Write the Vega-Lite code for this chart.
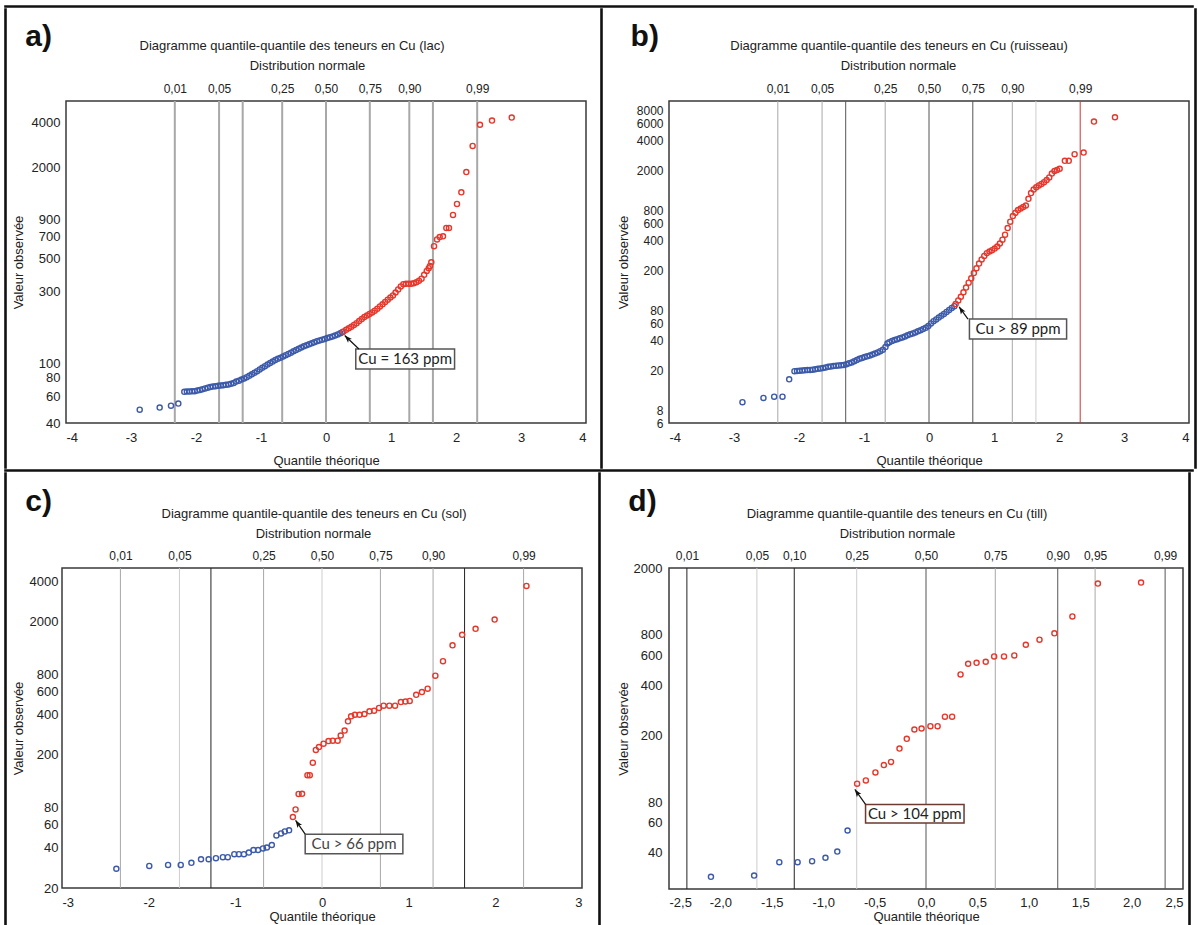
{
"$schema":"https://vega.github.io/schema/vega-lite/v6.json",
"padding":{"left":4,"top":5,"right":0,"bottom":0},
"config":{
 "locale":{"number":{"decimal":",","thousands":" ","grouping":[3],"currency":["",""],"minus":"-"}},
 "font":"Liberation Sans",
 "view":{"stroke":"#3a3a3a","strokeWidth":1.5},
 "axis":{"grid":false,"ticks":false,"domain":false,"labelOverlap":false,"labelFontSize":13,"titleFontSize":13,"labelColor":"#222","titleColor":"#222","titleFontWeight":"normal","labelFont":"Liberation Sans","titleFont":"Liberation Sans"},
 "title":{"font":"Liberation Sans","fontSize":13,"fontWeight":"normal","color":"#222"}
},
"spacing":0,
"vconcat":[
{"width":1188,"height":1,"data":{"values":[]},"mark":"point","view":{"stroke":"#111","strokeWidth":1.6}},
{"spacing":4,"hconcat":[
{"width":1,"height":459,"data":{"values":[]},"mark":"point","view":{"stroke":"#111","strokeWidth":1.6}},
{"spacing":13,"hconcat":[
{"spacing":11,"vconcat":[
{"width":1,"height":1,"data":{"values":[]},"mark":"point","view":{"stroke":"transparent"}},
{"title":{"text":"a)","anchor":"start","frame":"bounds","fontSize":30,"fontWeight":"bold","color":"#111","offset":0,"dx":14,"dy":13},
 "vconcat":[{
 "width":520,"height":322,
 "title":{"text":"Diagramme quantile-quantile des teneurs en Cu (lac)","frame":"group","dx":-34,"offset":6},
 "resolve":{"axis":{"x":"independent","y":"independent"}},
 "layer":[
  {"data":{"values":[{"q":-2.326,"t":"mid"},{"q":-1.645,"t":"mid"},{"q":-1.2816,"t":"mid"},{"q":-0.674,"t":"mid"},{"q":0,"t":"mid"},{"q":0.674,"t":"mid"},{"q":1.2816,"t":"mid"},{"q":1.645,"t":"mid"},{"q":2.326,"t":"mid"}]},
   "mark":{"type":"rule","strokeWidth":2},
   "encoding":{
    "x":{"field":"q","type":"quantitative","scale":{"domain":[-4,4],"nice":false},
     "axis":{"orient":"top","title":"Distribution normale","values":[-2.326,-1.645,-0.674,0,0.674,1.2816,2.326],"labelExpr":"datum.value < -2 ? '0,01' : datum.value < -1.5 ? '0,05' : datum.value < -1 ? '0,10' : datum.value < -0.5 ? '0,25' : datum.value < 0.5 ? '0,50' : datum.value < 1 ? '0,75' : datum.value < 1.5 ? '0,90' : datum.value < 2 ? '0,95' : '0,99'","labelFontSize":12,"labelPadding":6,"titlePadding":10,"titleX":241}},
    "stroke":{"field":"t","type":"nominal","scale":{"domain":["light","mid","dark","black","red"],"range":["#cdcdcd","#a8a8a8","#555555","#222222","#c9362e"]},"legend":null}}},
  {"data":{"values":[
{"x":-2.866,"v":49.1,"g":"b"},{"x":-2.559,"v":50.7,"g":"b"},{"x":-2.385,"v":52.2,"g":"b"},{"x":-2.272,"v":53.9,"g":"b"},
{"x":-2.18,"v":64.5,"g":"b"},{"x":-2.14,"v":64.8,"g":"b"},{"x":-2.1,"v":64.8,"g":"b"},{"x":-2.06,"v":65,"g":"b"},{"x":-2.02,"v":65.2,"g":"b"},{"x":-1.98,"v":65.8,"g":"b"},{"x":-1.94,"v":66.4,"g":"b"},{"x":-1.9,"v":67.2,"g":"b"},{"x":-1.86,"v":68,"g":"b"},{"x":-1.82,"v":68.8,"g":"b"},{"x":-1.78,"v":69.5,"g":"b"},{"x":-1.74,"v":70,"g":"b"},{"x":-1.7,"v":70.3,"g":"b"},{"x":-1.66,"v":70.7,"g":"b"},{"x":-1.62,"v":71,"g":"b"},{"x":-1.58,"v":71.4,"g":"b"},{"x":-1.54,"v":71.8,"g":"b"},{"x":-1.5,"v":72.3,"g":"b"},{"x":-1.46,"v":73,"g":"b"},{"x":-1.42,"v":74,"g":"b"},{"x":-1.38,"v":75.5,"g":"b"},{"x":-1.34,"v":76.6,"g":"b"},{"x":-1.3,"v":77.8,"g":"b"},{"x":-1.26,"v":79.2,"g":"b"},{"x":-1.22,"v":80.8,"g":"b"},{"x":-1.18,"v":82.5,"g":"b"},{"x":-1.14,"v":84.4,"g":"b"},{"x":-1.1,"v":86.5,"g":"b"},{"x":-1.06,"v":88.6,"g":"b"},{"x":-1.02,"v":91,"g":"b"},{"x":-0.98,"v":93.3,"g":"b"},{"x":-0.94,"v":95.6,"g":"b"},{"x":-0.9,"v":98,"g":"b"},{"x":-0.86,"v":100.3,"g":"b"},{"x":-0.82,"v":102.6,"g":"b"},{"x":-0.78,"v":105,"g":"b"},{"x":-0.74,"v":107,"g":"b"},{"x":-0.7,"v":109,"g":"b"},{"x":-0.66,"v":111,"g":"b"},{"x":-0.62,"v":113.2,"g":"b"},{"x":-0.58,"v":115.4,"g":"b"},{"x":-0.54,"v":117.6,"g":"b"},{"x":-0.5,"v":120,"g":"b"},{"x":-0.46,"v":122.4,"g":"b"},{"x":-0.42,"v":124.8,"g":"b"},{"x":-0.38,"v":127.3,"g":"b"},{"x":-0.34,"v":129.7,"g":"b"},{"x":-0.3,"v":131.6,"g":"b"},{"x":-0.26,"v":133.6,"g":"b"},{"x":-0.22,"v":135.8,"g":"b"},{"x":-0.18,"v":138,"g":"b"},{"x":-0.14,"v":140.2,"g":"b"},{"x":-0.1,"v":142,"g":"b"},{"x":-0.06,"v":143.6,"g":"b"},{"x":-0.02,"v":145.3,"g":"b"},{"x":0.02,"v":147.2,"g":"b"},{"x":0.06,"v":149,"g":"b"},{"x":0.1,"v":151,"g":"b"},{"x":0.14,"v":153,"g":"b"},{"x":0.18,"v":155.5,"g":"b"},{"x":0.22,"v":158.5,"g":"b"},{"x":0.25,"v":161,"g":"b"},
{"x":0.27,"v":163,"g":"r"},{"x":0.31,"v":167,"g":"r"},{"x":0.35,"v":171,"g":"r"},{"x":0.39,"v":175,"g":"r"},{"x":0.43,"v":180,"g":"r"},{"x":0.47,"v":185,"g":"r"},{"x":0.51,"v":191,"g":"r"},{"x":0.55,"v":197,"g":"r"},{"x":0.59,"v":203,"g":"r"},{"x":0.63,"v":208,"g":"r"},{"x":0.67,"v":213,"g":"r"},{"x":0.71,"v":218,"g":"r"},{"x":0.75,"v":224,"g":"r"},{"x":0.79,"v":231,"g":"r"},{"x":0.83,"v":239,"g":"r"},{"x":0.87,"v":247,"g":"r"},{"x":0.91,"v":256,"g":"r"},{"x":0.95,"v":265,"g":"r"},{"x":0.99,"v":274,"g":"r"},{"x":1.03,"v":283,"g":"r"},{"x":1.07,"v":296,"g":"r"},{"x":1.11,"v":310,"g":"r"},{"x":1.15,"v":325,"g":"r"},{"x":1.19,"v":336,"g":"r"},{"x":1.23,"v":338,"g":"r"},{"x":1.27,"v":338,"g":"r"},{"x":1.31,"v":338,"g":"r"},{"x":1.35,"v":341,"g":"r"},{"x":1.39,"v":346,"g":"r"},{"x":1.43,"v":355,"g":"r"},{"x":1.47,"v":366,"g":"r"},{"x":1.51,"v":388,"g":"r"},{"x":1.55,"v":412,"g":"r"},{"x":1.58,"v":430,"g":"r"},{"x":1.6,"v":445,"g":"r"},{"x":1.62,"v":470,"g":"r"},
{"x":1.662,"v":602,"g":"r"},{"x":1.708,"v":668,"g":"r"},{"x":1.749,"v":692,"g":"r"},{"x":1.8,"v":700,"g":"r"},{"x":1.851,"v":797,"g":"r"},{"x":1.892,"v":797,"g":"r"},{"x":1.954,"v":972,"g":"r"},{"x":2.015,"v":1152,"g":"r"},{"x":2.082,"v":1376,"g":"r"},{"x":2.159,"v":1875,"g":"r"},{"x":2.256,"v":2800,"g":"r"},{"x":2.369,"v":3877,"g":"r"},{"x":2.554,"v":4130,"g":"r"},{"x":2.857,"v":4330,"g":"r"}
  ]},
   "mark":{"type":"point","shape":"circle","filled":false,"size":26,"strokeWidth":1.4,"opacity":1},
   "encoding":{
    "x":{"field":"x","type":"quantitative","scale":{"domain":[-4,4],"nice":false},"axis":{"orient":"bottom","title":"Quantile théorique","values":[-4,-3,-2,-1,0,1,2,3,4],"format":"d","labelPadding":8,"titlePadding":10}},
    "y":{"field":"v","type":"quantitative","scale":{"type":"log","domain":[40,5580],"nice":false},"axis":{"title":"Valeur observée","values":[40,60,80,100,300,500,700,900,2000,4000],"format":"d","labelPadding":6,"titlePadding":6}},
    "color":{"field":"g","type":"nominal","scale":{"domain":["b","r"],"range":["#3c5aa9","#e5382c"]},"legend":null}}},
  {"data":{"values":[{"bx":0.458,"bx2":1.978,"by":91.7,"by2":124.5,"tx":1.218,"ty":106.8,"label":"Cu = 163 ppm","ax":0.506,"ay":124.5,"hx":0.288,"hy":153}]},
   "layer":[
    {"mark":{"type":"rect","fill":"white","stroke":"#555","strokeWidth":1.5},"encoding":{"x":{"field":"bx","type":"quantitative","scale":{"domain":[-4,4],"nice":false},"axis":null},"x2":{"field":"bx2"},"y":{"field":"by","type":"quantitative","scale":{"type":"log","domain":[40,5580],"nice":false},"axis":null},"y2":{"field":"by2"}}},
    {"mark":{"type":"text","font":"Lato","fontSize":15,"color":"#222"},"encoding":{"x":{"field":"tx","type":"quantitative","scale":{"domain":[-4,4],"nice":false},"axis":null},"y":{"field":"ty","type":"quantitative","scale":{"type":"log","domain":[40,5580],"nice":false},"axis":null},"text":{"field":"label"}}},
    {"mark":{"type":"rule","color":"#111","strokeWidth":1.2},"encoding":{"x":{"field":"ax","type":"quantitative","scale":{"domain":[-4,4],"nice":false},"axis":null},"y":{"field":"ay","type":"quantitative","scale":{"type":"log","domain":[40,5580],"nice":false},"axis":null},"x2":{"field":"hx"},"y2":{"field":"hy"}}},
    {"mark":{"type":"point","shape":"M0,0L0.55,1.5L0,1.15L-0.55,1.5Z","filled":true,"color":"#111","size":100,"angle":315,"opacity":1},"encoding":{"x":{"field":"hx","type":"quantitative","scale":{"domain":[-4,4],"nice":false},"axis":null},"y":{"field":"hy","type":"quantitative","scale":{"type":"log","domain":[40,5580],"nice":false},"axis":null}}}
   ]}
 ]}]}
]},
{"width":1,"height":459,"data":{"values":[]},"mark":"point","view":{"stroke":"#111","strokeWidth":1.6}},
{"spacing":11,"vconcat":[
{"width":1,"height":1,"data":{"values":[]},"mark":"point","view":{"stroke":"transparent"}},
{"title":{"text":"b)","anchor":"start","frame":"bounds","fontSize":30,"fontWeight":"bold","color":"#111","offset":0,"dx":14,"dy":13},
 "vconcat":[{
 "width":520,"height":322,
 "title":{"text":"Diagramme quantile-quantile des teneurs en Cu (ruisseau)","frame":"group","dx":-30,"offset":6},
 "resolve":{"axis":{"x":"independent","y":"independent"}},
 "layer":[
  {"data":{"values":[{"q":-2.326,"t":"mid"},{"q":-1.645,"t":"mid"},{"q":-1.2816,"t":"dark"},{"q":-0.674,"t":"mid"},{"q":0,"t":"dark"},{"q":0.674,"t":"dark"},{"q":1.2816,"t":"mid"},{"q":1.645,"t":"light"},{"q":2.326,"t":"red"}]},
   "mark":{"type":"rule","strokeWidth":1},
   "encoding":{
    "x":{"field":"q","type":"quantitative","scale":{"domain":[-4,4],"nice":false},
     "axis":{"orient":"top","title":"Distribution normale","values":[-2.326,-1.645,-0.674,0,0.674,1.2816,2.326],"labelExpr":"datum.value < -2 ? '0,01' : datum.value < -1.5 ? '0,05' : datum.value < -1 ? '0,10' : datum.value < -0.5 ? '0,25' : datum.value < 0.5 ? '0,50' : datum.value < 1 ? '0,75' : datum.value < 1.5 ? '0,90' : datum.value < 2 ? '0,95' : '0,99'","labelFontSize":12,"labelPadding":6,"titlePadding":10,"titleX":229}},
    "stroke":{"field":"t","type":"nominal","scale":{"domain":["light","mid","dark","black","red"],"range":["#cdcdcd","#a8a8a8","#555555","#222222","#c9362e"]},"legend":null}}},
  {"data":{"values":[
{"x":-2.87,"v":9.7,"g":"b"},{"x":-2.547,"v":10.7,"g":"b"},{"x":-2.382,"v":11,"g":"b"},{"x":-2.254,"v":11,"g":"b"},{"x":-2.151,"v":16.4,"g":"b"},
{"x":-2.07,"v":19.8,"g":"b"},{"x":-2.03,"v":19.9,"g":"b"},{"x":-1.99,"v":20,"g":"b"},{"x":-1.95,"v":20.1,"g":"b"},{"x":-1.91,"v":20.2,"g":"b"},{"x":-1.87,"v":20.3,"g":"b"},{"x":-1.83,"v":20.4,"g":"b"},{"x":-1.79,"v":20.5,"g":"b"},{"x":-1.75,"v":20.7,"g":"b"},{"x":-1.71,"v":20.9,"g":"b"},{"x":-1.67,"v":21.1,"g":"b"},{"x":-1.63,"v":21.3,"g":"b"},{"x":-1.59,"v":21.6,"g":"b"},{"x":-1.55,"v":21.9,"g":"b"},{"x":-1.51,"v":22.1,"g":"b"},{"x":-1.47,"v":22.3,"g":"b"},{"x":-1.43,"v":22.5,"g":"b"},{"x":-1.39,"v":22.6,"g":"b"},{"x":-1.35,"v":22.7,"g":"b"},{"x":-1.31,"v":22.8,"g":"b"},{"x":-1.27,"v":23.2,"g":"b"},{"x":-1.23,"v":23.7,"g":"b"},{"x":-1.19,"v":24.2,"g":"b"},{"x":-1.15,"v":24.9,"g":"b"},{"x":-1.11,"v":25.6,"g":"b"},{"x":-1.07,"v":26.3,"g":"b"},{"x":-1.03,"v":26.9,"g":"b"},{"x":-0.99,"v":27.4,"g":"b"},{"x":-0.95,"v":27.9,"g":"b"},{"x":-0.91,"v":28.4,"g":"b"},{"x":-0.87,"v":29,"g":"b"},{"x":-0.83,"v":29.7,"g":"b"},{"x":-0.79,"v":30.5,"g":"b"},{"x":-0.75,"v":31.4,"g":"b"},{"x":-0.71,"v":32.5,"g":"b"},{"x":-0.67,"v":34.5,"g":"b"},{"x":-0.64,"v":37.5,"g":"b"},{"x":-0.61,"v":38.6,"g":"b"},{"x":-0.57,"v":39.6,"g":"b"},{"x":-0.53,"v":40.6,"g":"b"},{"x":-0.49,"v":41.4,"g":"b"},{"x":-0.45,"v":42.2,"g":"b"},{"x":-0.41,"v":43.1,"g":"b"},{"x":-0.37,"v":44,"g":"b"},{"x":-0.33,"v":45.2,"g":"b"},{"x":-0.29,"v":46.3,"g":"b"},{"x":-0.25,"v":47.3,"g":"b"},{"x":-0.21,"v":48.4,"g":"b"},{"x":-0.17,"v":49.6,"g":"b"},{"x":-0.13,"v":50.8,"g":"b"},{"x":-0.09,"v":52.2,"g":"b"},{"x":-0.05,"v":53.8,"g":"b"},{"x":-0.01,"v":56,"g":"b"},{"x":0.03,"v":59.5,"g":"b"},{"x":0.07,"v":62.6,"g":"b"},{"x":0.11,"v":65.3,"g":"b"},{"x":0.15,"v":68,"g":"b"},{"x":0.19,"v":70.8,"g":"b"},{"x":0.23,"v":74,"g":"b"},{"x":0.27,"v":77.5,"g":"b"},{"x":0.31,"v":81.2,"g":"b"},{"x":0.35,"v":85,"g":"b"},{"x":0.39,"v":88.5,"g":"b"},
{"x":0.41,"v":93,"g":"r"},{"x":0.45,"v":101,"g":"r"},{"x":0.49,"v":110,"g":"r"},{"x":0.53,"v":122,"g":"r"},{"x":0.57,"v":136,"g":"r"},{"x":0.61,"v":152,"g":"r"},{"x":0.65,"v":168,"g":"r"},{"x":0.69,"v":190,"g":"r"},{"x":0.73,"v":212,"g":"r"},{"x":0.77,"v":236,"g":"r"},{"x":0.81,"v":260,"g":"r"},{"x":0.85,"v":282,"g":"r"},{"x":0.89,"v":300,"g":"r"},{"x":0.93,"v":312,"g":"r"},{"x":0.97,"v":322,"g":"r"},{"x":1.01,"v":334,"g":"r"},{"x":1.05,"v":350,"g":"r"},{"x":1.09,"v":375,"g":"r"},{"x":1.13,"v":410,"g":"r"},{"x":1.17,"v":460,"g":"r"},{"x":1.21,"v":535,"g":"r"},{"x":1.25,"v":620,"g":"r"},{"x":1.29,"v":705,"g":"r"},{"x":1.33,"v":760,"g":"r"},{"x":1.37,"v":810,"g":"r"},{"x":1.41,"v":840,"g":"r"},{"x":1.45,"v":870,"g":"r"},{"x":1.49,"v":900,"g":"r"},{"x":1.53,"v":1050,"g":"r"},{"x":1.57,"v":1200,"g":"r"},{"x":1.61,"v":1300,"g":"r"},{"x":1.65,"v":1370,"g":"r"},{"x":1.69,"v":1430,"g":"r"},{"x":1.73,"v":1480,"g":"r"},{"x":1.77,"v":1540,"g":"r"},{"x":1.81,"v":1620,"g":"r"},{"x":1.85,"v":1720,"g":"r"},{"x":1.89,"v":1880,"g":"r"},{"x":1.93,"v":1990,"g":"r"},{"x":1.97,"v":2040,"g":"r"},{"x":2.01,"v":2100,"g":"r"},{"x":2.09,"v":2520,"g":"r"},{"x":2.15,"v":2520,"g":"r"},
{"x":2.24,"v":2937,"g":"r"},{"x":2.379,"v":3050,"g":"r"},{"x":2.538,"v":6224,"g":"r"},{"x":2.861,"v":6880,"g":"r"}
  ]},
   "mark":{"type":"point","shape":"circle","filled":false,"size":26,"strokeWidth":1.4,"opacity":1},
   "encoding":{
    "x":{"field":"x","type":"quantitative","scale":{"domain":[-4,4],"nice":false},"axis":{"orient":"bottom","title":"Quantile théorique","values":[-4,-3,-2,-1,0,1,2,3,4],"format":"d","labelPadding":8,"titlePadding":10}},
    "y":{"field":"v","type":"quantitative","scale":{"type":"log","domain":[6,10000],"nice":false},"axis":{"title":"Valeur observée","values":[6,8,20,40,60,80,200,400,600,800,2000,4000,6000,8000],"format":"d","labelFontSize":12,"labelPadding":6,"titlePadding":6}},
    "color":{"field":"g","type":"nominal","scale":{"domain":["b","r"],"range":["#3c5aa9","#e5382c"]},"legend":null}}},
  {"data":{"values":[{"bx":0.622,"bx2":2.117,"by":41.5,"by2":65.8,"tx":1.37,"ty":52.3,"label":"Cu > 89 ppm","ax":0.6,"ay":65.8,"hx":0.464,"hy":87.3}]},
   "layer":[
    {"mark":{"type":"rect","fill":"white","stroke":"#555","strokeWidth":1.5},"encoding":{"x":{"field":"bx","type":"quantitative","scale":{"domain":[-4,4],"nice":false},"axis":null},"x2":{"field":"bx2"},"y":{"field":"by","type":"quantitative","scale":{"type":"log","domain":[6,10000],"nice":false},"axis":null},"y2":{"field":"by2"}}},
    {"mark":{"type":"text","font":"Lato","fontSize":15,"color":"#222"},"encoding":{"x":{"field":"tx","type":"quantitative","scale":{"domain":[-4,4],"nice":false},"axis":null},"y":{"field":"ty","type":"quantitative","scale":{"type":"log","domain":[6,10000],"nice":false},"axis":null},"text":{"field":"label"}}},
    {"mark":{"type":"rule","color":"#111","strokeWidth":1.2},"encoding":{"x":{"field":"ax","type":"quantitative","scale":{"domain":[-4,4],"nice":false},"axis":null},"y":{"field":"ay","type":"quantitative","scale":{"type":"log","domain":[6,10000],"nice":false},"axis":null},"x2":{"field":"hx"},"y2":{"field":"hy"}}},
    {"mark":{"type":"point","shape":"M0,0L0.55,1.5L0,1.15L-0.55,1.5Z","filled":true,"color":"#111","size":100,"angle":327,"opacity":1},"encoding":{"x":{"field":"hx","type":"quantitative","scale":{"domain":[-4,4],"nice":false},"axis":null},"y":{"field":"hy","type":"quantitative","scale":{"type":"log","domain":[6,10000],"nice":false},"axis":null}}}
   ]}
 ]}]}
]}
]},
{"width":1,"height":459,"data":{"values":[]},"mark":"point","view":{"stroke":"#111","strokeWidth":1.6}}
]},
{"width":1188,"height":1,"data":{"values":[]},"mark":"point","view":{"stroke":"#111","strokeWidth":1.6}},
{"spacing":4,"hconcat":[
{"width":1,"height":458,"data":{"values":[]},"mark":"point","view":{"stroke":"#111","strokeWidth":1.6}},
{"spacing":15,"hconcat":[
{"spacing":12,"vconcat":[
{"width":1,"height":1,"data":{"values":[]},"mark":"point","view":{"stroke":"transparent"}},
{"title":{"text":"c)","anchor":"start","frame":"bounds","fontSize":30,"fontWeight":"bold","color":"#111","offset":0,"dx":14,"dy":10},
 "vconcat":[{
 "width":520,"height":320,
 "title":{"text":"Diagramme quantile-quantile des teneurs en Cu (sol)","frame":"group","dx":-8,"offset":6},
 "resolve":{"axis":{"x":"independent","y":"independent"}},
 "layer":[
  {"data":{"values":[{"q":-2.326,"t":"mid"},{"q":-1.645,"t":"light"},{"q":-1.2816,"t":"black"},{"q":-0.674,"t":"mid"},{"q":0,"t":"light"},{"q":0.674,"t":"mid"},{"q":1.2816,"t":"mid"},{"q":1.645,"t":"black"},{"q":2.326,"t":"mid"}]},
   "mark":{"type":"rule","strokeWidth":1},
   "encoding":{
    "x":{"field":"q","type":"quantitative","scale":{"domain":[-3,3],"nice":false},
     "axis":{"orient":"top","title":"Distribution normale","values":[-2.326,-1.645,-0.674,0,0.674,1.2816,2.326],"labelExpr":"datum.value < -2 ? '0,01' : datum.value < -1.5 ? '0,05' : datum.value < -1 ? '0,10' : datum.value < -0.5 ? '0,25' : datum.value < 0.5 ? '0,50' : datum.value < 1 ? '0,75' : datum.value < 1.5 ? '0,90' : datum.value < 2 ? '0,95' : '0,99'","labelFontSize":12,"labelPadding":6,"titlePadding":9,"titleX":251}},
    "stroke":{"field":"t","type":"nominal","scale":{"domain":["light","mid","dark","black","red"],"range":["#cdcdcd","#a8a8a8","#555555","#222222","#c9362e"]},"legend":null}}},
  {"data":{"values":[
{"x":-2.373,"v":27.9,"g":"b"},{"x":-1.993,"v":29.3,"g":"b"},{"x":-1.776,"v":29.8,"g":"b"},{"x":-1.63,"v":29.8,"g":"b"},{"x":-1.507,"v":30.9,"g":"b"},{"x":-1.396,"v":32.9,"g":"b"},{"x":-1.308,"v":32.9,"g":"b"},{"x":-1.224,"v":33.5,"g":"b"},{"x":-1.144,"v":34.1,"g":"b"},{"x":-1.087,"v":34.1,"g":"b"},{"x":-1.012,"v":35.9,"g":"b"},{"x":-0.959,"v":35.9,"g":"b"},{"x":-0.901,"v":35.9,"g":"b"},{"x":-0.844,"v":36.9,"g":"b"},{"x":-0.791,"v":38.6,"g":"b"},{"x":-0.738,"v":38.6,"g":"b"},{"x":-0.681,"v":39.7,"g":"b"},{"x":-0.636,"v":40.3,"g":"b"},{"x":-0.579,"v":42.1,"g":"b"},{"x":-0.526,"v":49.7,"g":"b"},{"x":-0.473,"v":51.4,"g":"b"},{"x":-0.429,"v":53.2,"g":"b"},{"x":-0.38,"v":54.3,"g":"b"},
{"x":-0.336,"v":68.3,"g":"r"},{"x":-0.305,"v":77.9,"g":"r"},{"x":-0.27,"v":101.9,"g":"r"},{"x":-0.23,"v":102,"g":"r"},{"x":-0.168,"v":141,"g":"r"},{"x":-0.141,"v":141,"g":"r"},{"x":-0.106,"v":175,"g":"r"},{"x":-0.071,"v":218,"g":"r"},{"x":-0.035,"v":229,"g":"r"},{"x":0.018,"v":243,"g":"r"},{"x":0.075,"v":254,"g":"r"},{"x":0.124,"v":256,"g":"r"},{"x":0.181,"v":256,"g":"r"},{"x":0.216,"v":280,"g":"r"},{"x":0.261,"v":305,"g":"r"},{"x":0.3,"v":358,"g":"r"},{"x":0.336,"v":390,"g":"r"},{"x":0.38,"v":401,"g":"r"},{"x":0.433,"v":401,"g":"r"},{"x":0.49,"v":406,"g":"r"},{"x":0.548,"v":425,"g":"r"},{"x":0.601,"v":430,"g":"r"},{"x":0.658,"v":451,"g":"r"},{"x":0.711,"v":469,"g":"r"},{"x":0.777,"v":469,"g":"r"},{"x":0.843,"v":469,"g":"r"},{"x":0.91,"v":499,"g":"r"},{"x":0.963,"v":504,"g":"r"},{"x":1.012,"v":509,"g":"r"},{"x":1.087,"v":566,"g":"r"},{"x":1.153,"v":593,"g":"r"},{"x":1.219,"v":630,"g":"r"},{"x":1.308,"v":788,"g":"r"},{"x":1.396,"v":1013,"g":"r"},{"x":1.506,"v":1332,"g":"r"},{"x":1.617,"v":1598,"g":"r"},{"x":1.772,"v":1772,"g":"r"},{"x":1.992,"v":2081,"g":"r"},{"x":2.359,"v":3723,"g":"r"}
  ]},
   "mark":{"type":"point","shape":"circle","filled":false,"size":26,"strokeWidth":1.4,"opacity":1},
   "encoding":{
    "x":{"field":"x","type":"quantitative","scale":{"domain":[-3,3],"nice":false},"axis":{"orient":"bottom","title":"Quantile théorique","values":[-3,-2,-1,0,1,2,3],"format":"d","labelPadding":8,"titlePadding":1}},
    "y":{"field":"v","type":"quantitative","scale":{"type":"log","domain":[20,5080],"nice":false},"axis":{"title":"Valeur observée","values":[20,40,60,80,200,400,600,800,2000,4000],"format":"d","labelPadding":4,"titlePadding":4}},
    "color":{"field":"g","type":"nominal","scale":{"domain":["b","r"],"range":["#4a64b0","#e5382c"]},"legend":null}}},
  {"data":{"values":[{"bx":-0.194,"bx2":0.933,"by":36.1,"by2":50.8,"tx":0.37,"ty":42.8,"label":"Cu > 66 ppm","ax":-0.194,"ay":50.8,"hx":-0.305,"hy":64.5}]},
   "layer":[
    {"mark":{"type":"rect","fill":"white","stroke":"#555","strokeWidth":1.5},"encoding":{"x":{"field":"bx","type":"quantitative","scale":{"domain":[-3,3],"nice":false},"axis":null},"x2":{"field":"bx2"},"y":{"field":"by","type":"quantitative","scale":{"type":"log","domain":[20,5080],"nice":false},"axis":null},"y2":{"field":"by2"}}},
    {"mark":{"type":"text","font":"Lato","fontSize":15,"color":"#444"},"encoding":{"x":{"field":"tx","type":"quantitative","scale":{"domain":[-3,3],"nice":false},"axis":null},"y":{"field":"ty","type":"quantitative","scale":{"type":"log","domain":[20,5080],"nice":false},"axis":null},"text":{"field":"label"}}},
    {"mark":{"type":"rule","color":"#111","strokeWidth":1.2},"encoding":{"x":{"field":"ax","type":"quantitative","scale":{"domain":[-3,3],"nice":false},"axis":null},"y":{"field":"ay","type":"quantitative","scale":{"type":"log","domain":[20,5080],"nice":false},"axis":null},"x2":{"field":"hx"},"y2":{"field":"hy"}}},
    {"mark":{"type":"point","shape":"M0,0L0.55,1.5L0,1.15L-0.55,1.5Z","filled":true,"color":"#111","size":100,"angle":326,"opacity":1},"encoding":{"x":{"field":"hx","type":"quantitative","scale":{"domain":[-3,3],"nice":false},"axis":null},"y":{"field":"hy","type":"quantitative","scale":{"type":"log","domain":[20,5080],"nice":false},"axis":null}}}
   ]}
 ]}]}
]},
{"width":1,"height":458,"data":{"values":[]},"mark":"point","view":{"stroke":"#111","strokeWidth":1.6}},
{"spacing":12,"vconcat":[
{"width":1,"height":1,"data":{"values":[]},"mark":"point","view":{"stroke":"transparent"}},
{"title":{"text":"d)","anchor":"start","frame":"bounds","fontSize":30,"fontWeight":"bold","color":"#111","offset":0,"dx":12,"dy":10},
 "vconcat":[{
 "width":514,"height":321,
 "title":{"text":"Diagramme quantile-quantile des teneurs en Cu (till)","frame":"group","dx":-29,"offset":6},
 "resolve":{"axis":{"x":"independent","y":"independent"}},
 "layer":[
  {"data":{"values":[{"q":-2.326,"t":"black"},{"q":-1.645,"t":"light"},{"q":-1.2816,"t":"black"},{"q":-0.674,"t":"light"},{"q":0,"t":"dark"},{"q":0.674,"t":"mid"},{"q":1.2816,"t":"dark"},{"q":1.645,"t":"mid"},{"q":2.326,"t":"dark"}]},
   "mark":{"type":"rule","strokeWidth":1},
   "encoding":{
    "x":{"field":"q","type":"quantitative","scale":{"domain":[-2.5,2.5],"nice":false},
     "axis":{"orient":"top","title":"Distribution normale","values":[-2.326,-1.645,-1.2816,-0.674,0,0.674,1.2816,1.645,2.326],"labelExpr":"datum.value < -2 ? '0,01' : datum.value < -1.5 ? '0,05' : datum.value < -1 ? '0,10' : datum.value < -0.5 ? '0,25' : datum.value < 0.5 ? '0,50' : datum.value < 1 ? '0,75' : datum.value < 1.5 ? '0,90' : datum.value < 2 ? '0,95' : '0,99'","labelFontSize":12,"labelPadding":6,"titlePadding":9,"titleX":228}},
    "stroke":{"field":"t","type":"nominal","scale":{"domain":["light","mid","dark","black","red"],"range":["#cdcdcd","#a8a8a8","#555555","#222222","#c9362e"]},"legend":null}}},
  {"data":{"values":[
{"x":-2.092,"v":28.6,"g":"b"},{"x":-1.672,"v":29.1,"g":"b"},{"x":-1.427,"v":35,"g":"b"},{"x":-1.249,"v":35,"g":"b"},{"x":-1.108,"v":35.5,"g":"b"},{"x":-0.978,"v":37.2,"g":"b"},{"x":-0.863,"v":40.5,"g":"b"},{"x":-0.763,"v":54.1,"g":"b"},
{"x":-0.67,"v":103,"g":"r"},{"x":-0.585,"v":107.7,"g":"r"},{"x":-0.492,"v":120.2,"g":"r"},{"x":-0.41,"v":133,"g":"r"},{"x":-0.34,"v":139,"g":"r"},{"x":-0.258,"v":167,"g":"r"},{"x":-0.187,"v":191,"g":"r"},{"x":-0.113,"v":217,"g":"r"},{"x":-0.043,"v":220,"g":"r"},{"x":0.043,"v":227,"g":"r"},{"x":0.113,"v":227,"g":"r"},{"x":0.184,"v":259,"g":"r"},{"x":0.254,"v":259,"g":"r"},{"x":0.336,"v":463,"g":"r"},{"x":0.41,"v":536,"g":"r"},{"x":0.492,"v":543,"g":"r"},{"x":0.581,"v":551,"g":"r"},{"x":0.663,"v":593,"g":"r"},{"x":0.759,"v":593,"g":"r"},{"x":0.859,"v":601,"g":"r"},{"x":0.971,"v":696,"g":"r"},{"x":1.104,"v":746,"g":"r"},{"x":1.249,"v":814,"g":"r"},{"x":1.424,"v":1028,"g":"r"},{"x":1.672,"v":1614,"g":"r"},{"x":2.092,"v":1637,"g":"r"}
  ]},
   "mark":{"type":"point","shape":"circle","filled":false,"size":26,"strokeWidth":1.4,"opacity":1},
   "encoding":{
    "x":{"field":"x","type":"quantitative","scale":{"domain":[-2.5,2.5],"nice":false},"axis":{"orient":"bottom","title":"Quantile théorique","values":[-2.5,-2,-1.5,-1,-0.5,0,0.5,1,1.5,2,2.5],"format":".1f","labelPadding":7,"titlePadding":1}},
    "y":{"field":"v","type":"quantitative","scale":{"type":"log","domain":[24.2,2000],"nice":false},"axis":{"title":"Valeur observée","values":[40,60,80,200,400,600,800,2000],"format":"d","labelPadding":7,"titlePadding":3}},
    "color":{"field":"g","type":"nominal","scale":{"domain":["b","r"],"range":["#4a64b0","#e5382c"]},"legend":null}}},
  {"data":{"values":[{"bx":-0.588,"bx2":0.37,"by":59.9,"by2":77.4,"tx":-0.109,"ty":68.1,"label":"Cu > 104 ppm","ax":-0.588,"ay":77.4,"hx":-0.692,"hy":95.2}]},
   "layer":[
    {"mark":{"type":"rect","fill":"white","stroke":"#6b3a30","strokeWidth":1.5},"encoding":{"x":{"field":"bx","type":"quantitative","scale":{"domain":[-2.5,2.5],"nice":false},"axis":null},"x2":{"field":"bx2"},"y":{"field":"by","type":"quantitative","scale":{"type":"log","domain":[24.2,2000],"nice":false},"axis":null},"y2":{"field":"by2"}}},
    {"mark":{"type":"text","font":"Lato","fontSize":15,"color":"#222"},"encoding":{"x":{"field":"tx","type":"quantitative","scale":{"domain":[-2.5,2.5],"nice":false},"axis":null},"y":{"field":"ty","type":"quantitative","scale":{"type":"log","domain":[24.2,2000],"nice":false},"axis":null},"text":{"field":"label"}}},
    {"mark":{"type":"rule","color":"#111","strokeWidth":1.2},"encoding":{"x":{"field":"ax","type":"quantitative","scale":{"domain":[-2.5,2.5],"nice":false},"axis":null},"y":{"field":"ay","type":"quantitative","scale":{"type":"log","domain":[24.2,2000],"nice":false},"axis":null},"x2":{"field":"hx"},"y2":{"field":"hy"}}},
    {"mark":{"type":"point","shape":"M0,0L0.55,1.5L0,1.15L-0.55,1.5Z","filled":true,"color":"#111","size":100,"angle":325,"opacity":1},"encoding":{"x":{"field":"hx","type":"quantitative","scale":{"domain":[-2.5,2.5],"nice":false},"axis":null},"y":{"field":"hy","type":"quantitative","scale":{"type":"log","domain":[24.2,2000],"nice":false},"axis":null}}}
   ]}
 ]}]}
]}
]},
{"width":1,"height":458,"data":{"values":[]},"mark":"point","view":{"stroke":"#111","strokeWidth":1.6}}
]}
]}
